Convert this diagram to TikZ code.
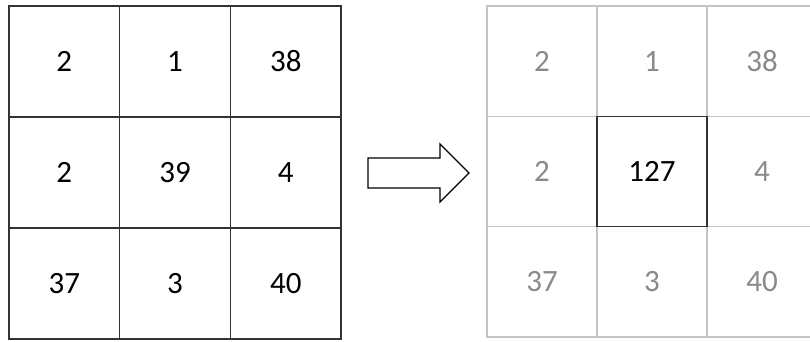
\documentclass[tikz,border=0pt]{standalone}
\usepackage{fontspec}
\setmainfont{Carlito}
\definecolor{gridline}{HTML}{333333}
\definecolor{lightline}{HTML}{C4C4C4}
\definecolor{lighttext}{HTML}{8A8A8A}
\begin{document}
\begin{tikzpicture}[x=1pt,y=-1pt,
  cellL/.style={draw=gridline,line width=1.4pt,minimum width=110.7pt,minimum height=111pt,inner sep=0pt,outer sep=0pt,text=black,font=\fontsize{31}{36}\selectfont},
  cellR/.style={draw=lightline,line width=1.2pt,minimum width=110pt,minimum height=110.3pt,inner sep=0pt,outer sep=0pt,text=lighttext,font=\fontsize{31}{36}\selectfont},
  hicell/.style={draw=gridline,line width=1.4pt,text=black}]
\useasboundingbox (0,0) rectangle (810,342);
\fill[white] (0,0) rectangle (810,342);
% left grid
\node[cellL] (l11) at (64.35,61.5) {2};
\node[cellL] (l12) at (175.05,61.5) {1};
\node[cellL] (l13) at (285.75,61.5) {38};
\node[cellL] (l21) at (64.35,172.5) {2};
\node[cellL] (l22) at (175.05,172.5) {39};
\node[cellL] (l23) at (285.75,172.5) {4};
\node[cellL] (l31) at (64.35,283.5) {37};
\node[cellL] (l32) at (175.05,283.5) {3};
\node[cellL] (l33) at (285.75,283.5) {40};
% right grid
\node[cellR] (r11) at (542,61.15) {2};
\node[cellR] (r12) at (652,61.15) {1};
\node[cellR] (r13) at (762,61.15) {38};
\node[cellR] (r21) at (542,171.45) {2};
\node[cellR] (r23) at (762,171.45) {4};
\node[cellR] (r31) at (542,281.75) {37};
\node[cellR] (r32) at (652,281.75) {3};
\node[cellR] (r33) at (762,281.75) {40};
\node[cellR,hicell] (r22) at (652,171.45) {127};
% arrow
\draw[draw=black,line width=1.4pt,line join=miter,fill=white]
  (368,158) -- (440,158) -- (440,144) -- (469,173) -- (440,202) -- (440,188) -- (368,188) -- cycle;
\end{tikzpicture}
\end{document}
